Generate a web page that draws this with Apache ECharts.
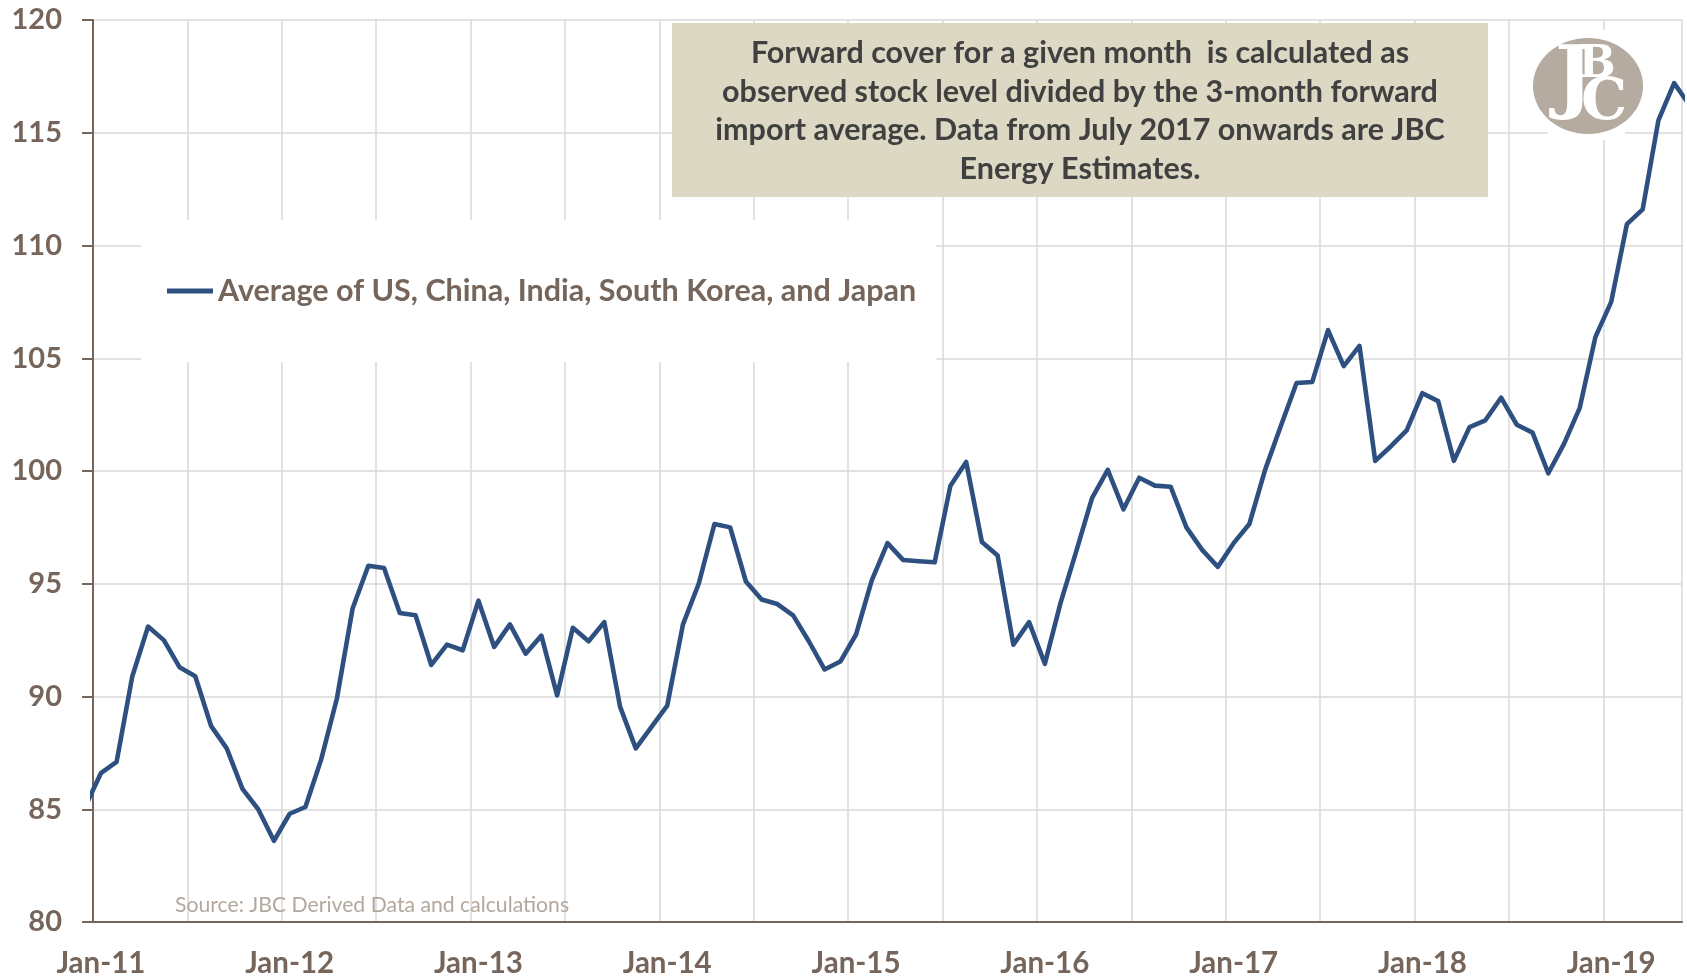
<!DOCTYPE html>
<html>
<head>
    <meta charset="utf-8">
    <title>Forward cover</title>
    <style>html, body { margin: 0; background: #fff; }</style>
</head>
<body>
<div id="container" style="width: 1687px; height: 978px"></div>

<script src="https://cdn.jsdelivr.net/npm/echarts@6.0.0/dist/echarts.min.js" type="text/javascript"></script>
<script type="text/javascript">

    // months on the axis: Jan-11 .. May-19
    var monthNames = ['Jan', 'Feb', 'Mar', 'Apr', 'May', 'Jun', 'Jul', 'Aug', 'Sep', 'Oct', 'Nov', 'Dec'];
    var years = ['11', '12', '13', '14', '15', '16', '17', '18', '19'];
    var monthCount = 101;

    var seriesName = 'Average of US, China, India, South Korea, and Japan';

    // Dec-10 and Jun-19 sit just outside the plot, the line runs off the edges
    var valueBefore = 85.1;
    var valueAfter = 116.2;

    var values = [
        86.6, 87.1, 90.9, 93.1, 92.5, 91.3, 90.9, 88.7, 87.7, 85.9, 85.0, 83.6,      // 2011
        84.8, 85.1, 87.2, 89.9, 93.9, 95.8, 95.7, 93.7, 93.6, 91.4, 92.3, 92.05,     // 2012
        94.25, 92.2, 93.2, 91.9, 92.7, 90.05, 93.05, 92.45, 93.3, 89.55, 87.7, 88.65, // 2013
        89.6, 93.2, 95.0, 97.65, 97.5, 95.1, 94.3, 94.1, 93.6, 92.45, 91.2, 91.55,   // 2014
        92.75, 95.15, 96.8, 96.05, 96.0, 95.95, 99.35, 100.4, 96.85, 96.25, 92.3, 93.3, // 2015
        91.45, 94.15, 96.45, 98.8, 100.05, 98.3, 99.7, 99.35, 99.3, 97.5, 96.5, 95.75, // 2016
        96.8, 97.65, 100.05, 102.0, 103.9, 103.95, 106.25, 104.65, 105.55, 100.45, 101.1, 101.8, // 2017
        103.45, 103.1, 100.45, 101.95, 102.25, 103.25, 102.05, 101.7, 99.9, 101.2, 102.8, 105.95, // 2018
        107.5, 110.95, 111.6, 115.55, 117.2                                           // 2019
    ];

    var yMin = 80, yMax = 120, yStep = 5;

    var noteText = 'Forward cover for a given month  is calculated as\n' +
        'observed stock level divided by the 3-month forward\n' +
        'import average. Data from July 2017 onwards are JBC\n' +
        'Energy Estimates.';
    var sourceText = 'Source: JBC Derived Data and calculations';

    var categories = [];
    years.forEach(function (y) {
        monthNames.forEach(function (m) {
            if (categories.length < monthCount) categories.push(m + '-' + y);
        });
    });

    // points sit in the middle of each month slot
    var lineData = [[-0.5, valueBefore]];
    values.forEach(function (v, i) { lineData.push([i + 0.5, v]); });
    lineData.push([values.length + 0.5, valueAfter]);

    var axisBrown = '#75655a';
    var gridGrey = '#d9d9d9';
    var font = 'Lato';

    var dom = document.getElementById('container');
    var myChart = echarts.init(dom);

    var option = {
        backgroundColor: '#ffffff',
        animation: false,
        grid: {
            left: 93,
            right: 5,
            top: 20,
            bottom: 55.5,
            containLabel: false
        },
        legend: {
            left: 141,
            top: 220,
            padding: [54, 20, 54, 26],
            backgroundColor: '#ffffff',
            icon: 'rect',
            itemWidth: 46,
            itemHeight: 5,
            textStyle: {
                fontFamily: font,
                fontWeight: 'bold',
                fontSize: 30.5,
                lineHeight: 34,
                color: axisBrown
            },
            data: [seriesName]
        },
        xAxis: [{
            type: 'value',
            position: 'bottom',
            min: 0,
            max: monthCount,
            interval: 6,
            axisLine: { show: true, lineStyle: { color: axisBrown, width: 2 } },
            axisTick: { show: false },
            axisLabel: { show: false },
            splitLine: { show: true, lineStyle: { color: gridGrey, width: 1.5 } }
        }, {
            type: 'category',
            position: 'bottom',
            data: categories,
            boundaryGap: true,
            axisLine: { show: false },
            axisTick: { show: false },
            splitLine: { show: false },
            axisLabel: {
                interval: 11,
                margin: 26,
                fontFamily: font,
                fontWeight: 'bold',
                fontSize: 29.5,
                color: axisBrown
            }
        }],
        yAxis: {
            type: 'value',
            min: yMin,
            max: yMax,
            interval: yStep,
            axisLine: { show: true, lineStyle: { color: axisBrown, width: 2 } },
            axisTick: { show: true, length: 11, lineStyle: { color: axisBrown, width: 2 } },
            axisLabel: {
                margin: 31,
                fontFamily: font,
                fontWeight: 'bold',
                fontSize: 29,
                color: axisBrown
            },
            splitLine: { show: true, lineStyle: { color: gridGrey, width: 1.5 } }
        },
        graphic: [{
            type: 'rect',
            z: 50,
            shape: { x: 672, y: 23, width: 816, height: 174 },
            style: { fill: '#ddd8c3' }
        }, {
            type: 'text',
            z: 51,
            x: 1080,
            y: 111,
            style: {
                text: noteText,
                align: 'center',
                verticalAlign: 'middle',
                fontFamily: font,
                fontWeight: 'bold',
                fontSize: 30.5,
                lineHeight: 38.5,
                fill: '#404040'
            }
        }, {
            type: 'rect',
            z: 50,
            shape: { x: 1548, y: 30, width: 77, height: 110 },
            style: { fill: '#ffffff' }
        }, {
            type: 'ellipse',
            z: 51,
            shape: { cx: 1588, cy: 86, rx: 55, ry: 48 },
            style: { fill: '#b5aba0' }
        }, {
            type: 'text',
            z: 52,
            x: 1574,
            y: 82,
            style: {
                text: 'J',
                align: 'center',
                verticalAlign: 'middle',
                fontFamily: 'DejaVu Serif',
                fontWeight: 'bold',
                fontSize: 80,
                fill: '#ffffff'
            }
        }, {
            type: 'text',
            z: 52,
            x: 1597,
            y: 66,
            style: {
                text: 'B',
                align: 'center',
                verticalAlign: 'middle',
                fontFamily: 'DejaVu Serif',
                fontWeight: 'bold',
                fontSize: 44,
                fill: '#ffffff'
            }
        }, {
            type: 'text',
            z: 52,
            x: 1604,
            y: 104,
            style: {
                text: 'C',
                align: 'center',
                verticalAlign: 'middle',
                fontFamily: 'DejaVu Serif',
                fontWeight: 'bold',
                fontSize: 58,
                fill: '#ffffff'
            }
        }, {
            type: 'text',
            z: 51,
            x: 175,
            y: 905,
            style: {
                text: sourceText,
                verticalAlign: 'middle',
                fontFamily: font,
                fontSize: 21.2,
                fill: '#b3a89d'
            }
        }],
        series: [{
            name: seriesName,
            type: 'line',
            xAxisIndex: 0,
            data: lineData,
            showSymbol: false,
            clip: true,
            color: '#2d5080',
            lineStyle: { width: 4.6, color: '#2d5080', join: 'round', cap: 'round' },
            z: 10
        }]
    };

    if (option && typeof option === 'object') {
        myChart.setOption(option, true);
    }
</script>
</body>
</html>
